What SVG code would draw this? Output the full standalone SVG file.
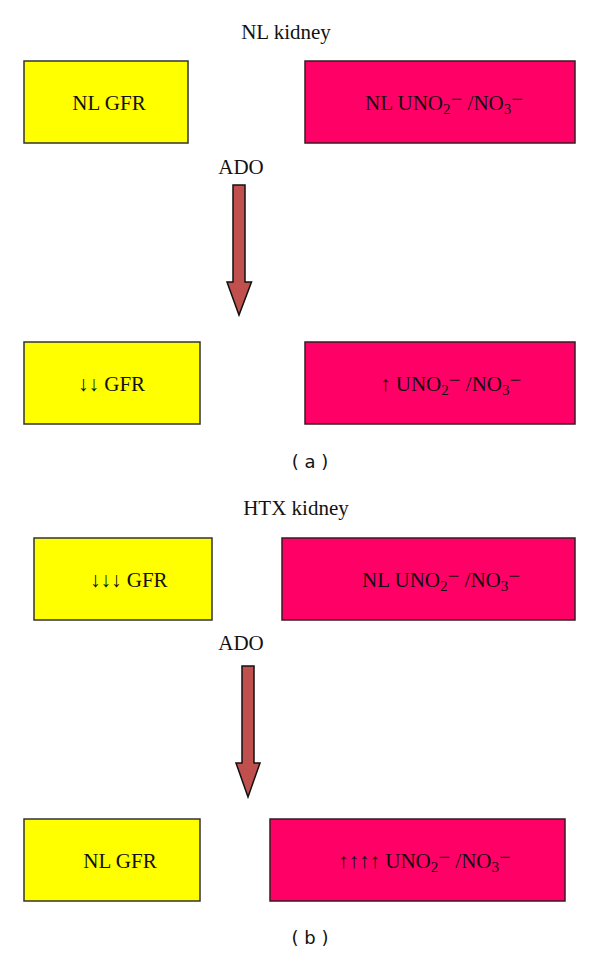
<svg xmlns="http://www.w3.org/2000/svg" width="600" height="954" viewBox="0 0 600 954">
<style>
.y{fill:#FFFF00;stroke:#333;stroke-width:1.5}
.p{fill:#FF0066;stroke:#3a1a22;stroke-width:1.5}
.t{font-family:"Liberation Serif","Times New Roman",serif;font-size:21px;fill:#111}
.c{font-family:"DejaVu Sans","Liberation Sans",sans-serif;font-size:18px;fill:#111}
.s{font-size:15px}
.ar{fill:#C0504D;stroke:#111;stroke-width:1.5;stroke-linejoin:miter}
</style>
<rect width="600" height="954" fill="#fff"/>
<text class="t" x="286" y="39" text-anchor="middle">NL kidney</text>
<g id="a_gfr_top"><rect class="y" x="24" y="61" width="164" height="82"/><text class="t" x="109" y="110" text-anchor="middle">NL GFR</text></g>
<g id="a_uno_top"><rect class="p" x="305" y="61" width="270" height="82"/><text class="t" x="365" y="110">NL UNO<tspan class="s" dy="4">2</tspan><tspan dy="-8">−</tspan><tspan dy="4"> /NO</tspan><tspan class="s" dy="4">3</tspan><tspan dy="-8">−</tspan></text></g>
<text class="t" x="241" y="174" text-anchor="middle">ADO</text>
<g id="a_gfr_bot"><rect class="y" x="24" y="342" width="176" height="82"/><text class="t" x="78" y="391">↓↓ GFR</text></g>
<g id="a_uno_bot"><rect class="p" x="305" y="342" width="270" height="82"/><text class="t" x="380" y="391">↑ UNO<tspan class="s" dy="4">2</tspan><tspan dy="-8">−</tspan><tspan dy="4"> /NO</tspan><tspan class="s" dy="4">3</tspan><tspan dy="-8">−</tspan></text></g>
<text class="c" x="310" y="468" text-anchor="middle">( a )</text>
<text class="t" x="296" y="515" text-anchor="middle">HTX kidney</text>
<g id="b_gfr_top"><rect class="y" x="34" y="538" width="178" height="82"/><text class="t" x="90" y="587">↓↓↓ GFR</text></g>
<g id="b_uno_top"><rect class="p" x="282" y="538" width="293" height="82"/><text class="t" x="362" y="587">NL UNO<tspan class="s" dy="4">2</tspan><tspan dy="-8">−</tspan><tspan dy="4"> /NO</tspan><tspan class="s" dy="4">3</tspan><tspan dy="-8">−</tspan></text></g>
<text class="t" x="241" y="650" text-anchor="middle">ADO</text>
<g id="b_gfr_bot"><rect class="y" x="24" y="819" width="176" height="82"/><text class="t" x="120" y="868" text-anchor="middle">NL GFR</text></g>
<g id="b_uno_bot"><rect class="p" x="270" y="819" width="295" height="82"/><text class="t" x="338" y="868">↑↑↑↑ UNO<tspan class="s" dy="4">2</tspan><tspan dy="-8">−</tspan><tspan dy="4"> /NO</tspan><tspan class="s" dy="4">3</tspan><tspan dy="-8">−</tspan></text></g>
<text class="c" x="310" y="944" text-anchor="middle">( b )</text>
<g id="connectors">
<polygon class="ar" points="233,185 245,185 245,282 251.5,282 239,315 227,282 233,282"/>
<polygon class="ar" points="242,666 254,666 254,763 260,763 248,797 236,763 242,763"/>
</g>
</svg>
